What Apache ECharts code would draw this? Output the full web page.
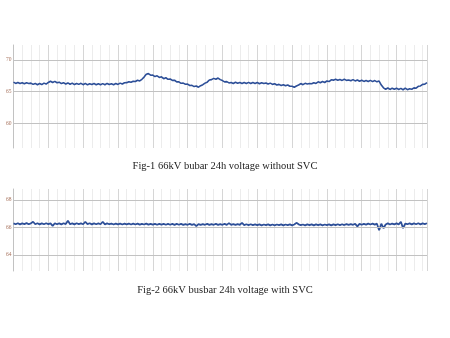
<!DOCTYPE html>
<html>
<head>
<meta charset="utf-8">
<script src="https://cdn.jsdelivr.net/npm/echarts@6/dist/echarts.min.js"></script>
<style>
  html, body { margin: 0; padding: 0; background: #fff; }
  #chart { width: 450px; height: 338px; }
</style>
</head>
<body>
<div id="chart"></div>
<script>
// Sampling step of both recordings, in hours (7.5 min)
const stepHours = 0.125;

// Fig-1: 66kV bus voltage over 24 h without SVC (kV)
const voltageWithoutSVC = [
  66.5, 66.3, 66.45, 66.28, 66.42, 66.25, 66.4, 66.3,
  66.35, 66.15, 66.3, 66.1, 66.28, 66.12, 66.35, 66.2,
  66.45, 66.65, 66.45, 66.62, 66.4, 66.5, 66.28, 66.42,
  66.2, 66.38, 66.18, 66.35, 66.12, 66.3, 66.15, 66.32,
  66.1, 66.3, 66.08, 66.25, 66.12, 66.28, 66.1, 66.26,
  66.08, 66.27, 66.1, 66.3, 66.12, 66.25, 66.1, 66.28,
  66.15, 66.35, 66.2, 66.4, 66.42, 66.58, 66.48, 66.65,
  66.6, 66.8, 66.7, 66.95, 67.3, 67.75, 67.85, 67.6,
  67.62, 67.38, 67.5, 67.25, 67.35, 67.05, 67.2, 66.95,
  67.0, 66.78, 66.8, 66.55, 66.55, 66.32, 66.35, 66.18,
  66.2, 65.98, 66.0, 65.8, 65.9, 65.7, 65.95, 66.1,
  66.35, 66.5, 66.85, 66.9, 67.1, 66.95, 67.15, 66.9,
  66.75, 66.55, 66.58, 66.38, 66.45, 66.3, 66.48, 66.32,
  66.45, 66.28, 66.45, 66.3, 66.47, 66.28, 66.45, 66.3,
  66.45, 66.25, 66.42, 66.28, 66.38, 66.2, 66.35, 66.15,
  66.25, 66.05, 66.15, 65.98, 66.1, 65.92, 66.05, 65.85,
  65.85, 65.7, 65.9, 66.05, 66.28, 66.1, 66.32, 66.22,
  66.3, 66.25, 66.42, 66.3, 66.55, 66.4, 66.6, 66.45,
  66.68, 66.6, 66.88, 66.82, 66.95, 66.8, 66.92, 66.78,
  66.95, 66.78, 66.85, 66.72, 66.9, 66.7, 66.85, 66.65,
  66.8, 66.62, 66.75, 66.6, 66.78, 66.58, 66.75, 66.55,
  66.68, 66.05, 65.6, 65.38, 65.58, 65.35, 65.55, 65.38,
  65.55, 65.35, 65.52, 65.3, 65.55, 65.32, 65.45, 65.38,
  65.6, 65.55, 65.85, 65.9, 66.15, 66.18, 66.42
];

// Fig-2: 66kV bus voltage over 24 h with SVC (kV)
const voltageWithSVC = [
  66.3, 66.24, 66.31, 66.23, 66.3, 66.25, 66.32, 66.24,
  66.3, 66.42, 66.24, 66.31, 66.23, 66.3, 66.24, 66.31,
  66.25, 66.3, 66.12, 66.31, 66.24, 66.3, 66.23, 66.31,
  66.25, 66.5, 66.24, 66.3, 66.23, 66.31, 66.25, 66.3,
  66.24, 66.42, 66.25, 66.31, 66.23, 66.3, 66.24, 66.3,
  66.24, 66.42, 66.23, 66.3, 66.24, 66.29, 66.22, 66.29,
  66.23, 66.29, 66.22, 66.28, 66.23, 66.29, 66.22, 66.28,
  66.22, 66.28, 66.21, 66.27, 66.22, 66.28, 66.21, 66.27,
  66.21, 66.27, 66.2, 66.27, 66.21, 66.26, 66.2, 66.26,
  66.2, 66.26, 66.19, 66.26, 66.2, 66.26, 66.19, 66.25,
  66.2, 66.26, 66.19, 66.25, 66.1, 66.25, 66.19, 66.25,
  66.2, 66.26, 66.19, 66.25, 66.2, 66.26, 66.19, 66.25,
  66.2, 66.26, 66.19, 66.32, 66.2, 66.25, 66.19, 66.25,
  66.2, 66.34, 66.18, 66.24, 66.18, 66.24, 66.17, 66.23,
  66.17, 66.23, 66.16, 66.22, 66.17, 66.23, 66.16, 66.22,
  66.16, 66.22, 66.17, 66.23, 66.16, 66.22, 66.17, 66.23,
  66.16, 66.22, 66.34, 66.23, 66.17, 66.22, 66.16, 66.23,
  66.17, 66.23, 66.16, 66.23, 66.17, 66.23, 66.16, 66.22,
  66.17, 66.23, 66.16, 66.23, 66.17, 66.24, 66.18, 66.24,
  66.18, 66.25, 66.19, 66.25, 66.2, 66.26, 66.08, 66.27,
  66.2, 66.27, 66.21, 66.28, 66.22, 66.28, 66.21, 66.28,
  65.8, 66.28, 65.95, 66.22, 66.3, 66.22, 66.29, 66.23,
  66.3, 66.23, 66.42, 65.95, 66.29, 66.24, 66.3, 66.23,
  66.3, 66.24, 66.31, 66.23, 66.3, 66.25, 66.31
];

// Labelled gridline values of each plot (kV)
const ticksFig1 = [60, 65, 70];
const ticksFig2 = [64, 66, 68];

// Captions
const captionFig1 = 'Fig-1 66kV bubar 24h voltage without SVC';
const captionFig2 = 'Fig-2 66kV busbar 24h voltage with SVC';

const toPairs = arr => arr.map((v, i) => [i * stepHours, v]);

const lineColor = '#2d4f98';
const majorV = '#d6d6d6';
const minorV = '#ececec';
const hLine = '#c2c2c2';

function xAxisFor(gridIndex) {
  return {
    type: 'value', gridIndex: gridIndex,
    min: 0, max: 23.75, interval: 0.5,
    axisLine: { show: false }, axisTick: { show: false }, axisLabel: { show: false },
    splitLine: { show: true, lineStyle: { width: 1, color: [majorV, minorV, minorV, minorV] } }
  };
}
function yAxisFor(gridIndex, min, max, ticks) {
  return {
    type: 'value', gridIndex: gridIndex, min: min, max: max,
    axisLine: { show: true, lineStyle: { color: '#c2c2c2', width: 1 } },
    axisTick: { show: false },
    splitLine: { show: false },
    axisLabel: {
      customValues: ticks, margin: 2, fontSize: 5.5, color: '#a8745f',
      fontFamily: 'Liberation Serif'
    }
  };
}
function markLinesFor(ticks) {
  return {
    silent: true, symbol: 'none', label: { show: false },
    lineStyle: { color: hLine, type: 'solid', width: 1 },
    data: ticks.map(t => ({ yAxis: t }))
  };
}

const chart = echarts.init(document.getElementById('chart'), null, { renderer: 'canvas' });
chart.setOption({
  backgroundColor: '#ffffff',
  animation: false,
  title: [
    { text: captionFig1, left: 'center', top: 161, padding: 0,
      textStyle: { fontFamily: 'Liberation Serif', fontSize: 10.5, fontWeight: 'normal', color: '#222' } },
    { text: captionFig2, left: 'center', top: 285, padding: 0,
      textStyle: { fontFamily: 'Liberation Serif', fontSize: 10.5, fontWeight: 'normal', color: '#222' } }
  ],
  grid: [
    { left: 13.5, right: 23, top: 45, height: 103 },
    { left: 13.5, right: 23, top: 189, height: 82 }
  ],
  xAxis: [xAxisFor(0), xAxisFor(1)],
  yAxis: [
    yAxisFor(0, 56.1, 72.37, ticksFig1),
    yAxisFor(1, 62.84, 68.8, ticksFig2)
  ],
  series: [
    { type: 'line', xAxisIndex: 0, yAxisIndex: 0, data: toPairs(voltageWithoutSVC),
      showSymbol: false, lineStyle: { color: lineColor, width: 1.6 },
      markLine: markLinesFor(ticksFig1) },
    { type: 'line', xAxisIndex: 1, yAxisIndex: 1, data: toPairs(voltageWithSVC),
      showSymbol: false, lineStyle: { color: lineColor, width: 1.8 },
      markLine: markLinesFor(ticksFig2) }
  ]
});
</script>
</body>
</html>
